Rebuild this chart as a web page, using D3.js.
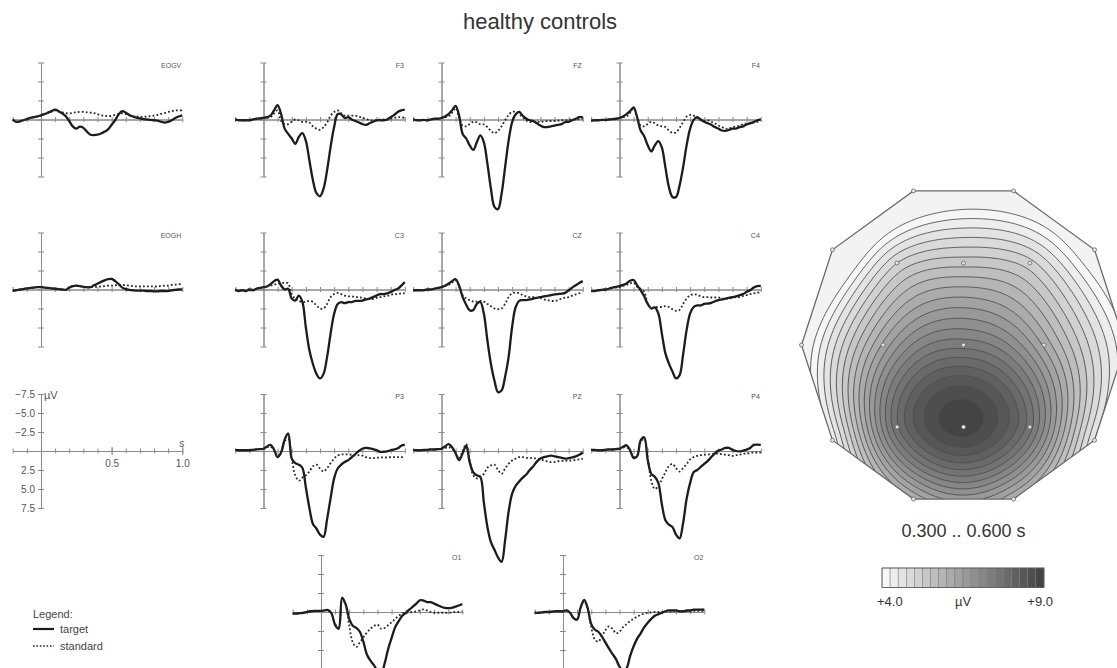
<!DOCTYPE html>
<html>
<head>
<meta charset="utf-8">
<script src="https://cdn.jsdelivr.net/npm/d3@7"></script>
<style>
  body { margin: 0; background: #fff; }
  svg { font-family: "Liberation Sans", Arial, Helvetica, sans-serif; }
  .ax path, .ax line { stroke: #8a8a8a; stroke-width: 1; }
  .ax text { fill: #555; font-size: 10px; font-family: "Liberation Sans", Arial, sans-serif; }
</style>
</head>
<body>
<svg id="chart" width="1117" height="668"></svg>
<script>
// sampling grid of the averaged epochs, -0.2 .. 1.0 s, every 25 ms
var times = d3.range(-0.2, 1.0001, 0.025);

// averaged ERPs in µV (negative up), target / standard
var targetEOGV = [0,0.3,0.25,0.1,-0.05,-0.2,-0.3,-0.4,-0.55, -0.7,-0.9,-1.1,-1.3,-1.1,-0.8,-0.45,0.2,0.9,1.2,0.95, 1.1,1.6,2.0,2.05,2.0,1.85,1.6,1.3,0.7,0.1, -0.7,-1.1,-0.9,-0.6,-0.4,-0.25,-0.15,-0.05,0,0.05, 0.1,0.15,0.3,0.4,0.3,0.1,-0.2,-0.4,-0.55];
var standardEOGV = [0,0.3,0.25,0.1,-0.05,-0.2,-0.3,-0.4,-0.55, -0.7,-0.9,-1.05,-1.2,-1.05,-0.95,-0.85,-0.8,-0.9,-0.95,-1.0, -1.0,-0.95,-0.9,-0.85,-0.7,-0.55,-0.5,-0.45,-0.5,-0.6, -0.75,-0.8,-0.7,-0.55,-0.45,-0.4,-0.35,-0.35,-0.4,-0.45, -0.5,-0.6,-0.75,-0.85,-1.0,-1.1,-1.2,-1.2,-1.2];

var targetEOGH = [0.15,0.1,0,-0.05,-0.15,-0.2,-0.25,-0.3,-0.3, -0.25,-0.2,-0.15,-0.1,-0.05,0,0.05,-0.25,-0.45,-0.5,-0.45, -0.35,-0.3,-0.3,-0.55,-0.75,-1.0,-1.2,-1.35,-1.4,-1.1, -0.7,-0.25,-0.05,0.05,0.1,0.15,0.15,0.15,0.2,0.2, 0.25,0.25,0.2,0.2,0.2,0.1,0.05,0,0];
var standardEOGH = [0.15,0.1,0,-0.05,-0.15,-0.2,-0.25,-0.3,-0.3, -0.25,-0.2,-0.15,-0.1,-0.05,0,0.05,-0.25,-0.45,-0.5,-0.45, -0.35,-0.3,-0.3,-0.35,-0.35,-0.4,-0.45,-0.5,-0.5,-0.55, -0.6,-0.6,-0.55,-0.5,-0.45,-0.4,-0.4,-0.4,-0.4,-0.4, -0.4,-0.4,-0.45,-0.5,-0.5,-0.6,-0.65,-0.7,-0.75];

var targetF3 = [0,0.1,0.1,0.1,0.1,0,-0.1,-0.15,-0.2, -0.3,-0.5,-1.2,-1.9,-0.7,1.2,1.9,2.5,3.2,2.3,1.8, 2.8,5.4,8.0,9.7,10.1,9.1,6.7,3.6,1.0,-0.7, -0.7,-0.2,-0.3,0,0.2,0.4,0.6,0.7,0.5,0.3, 0.1,0.1,0.1,0,-0.3,-0.6,-1.0,-1.2,-1.3];
var standardF3 = [0,0,0.1,0.1,0,0,-0.1,-0.1,-0.2, -0.2,-0.3,-0.8,-1.2,0.2,0.6,0.6,0.3,0,0.1,0.3, 0.3,0.4,0.9,1.2,1.35,1.0,0.4,-0.5,-1.0,-1.2, -0.8,-0.5,-0.5,-0.5,-0.5,-0.4,-0.2,-0.1,0.1,0.1, 0.1,0,0,0,-0.1,-0.2,-0.3,-0.3,-0.2];

var targetFZ = [0,0.1,0.1,0.05,0.1,0,-0.1,-0.1,-0.2, -0.4,-0.7,-1.2,-1.8,-0.5,1.9,2.5,3.4,4.0,3.0,2.1, 3.0,5.8,9.1,11.5,11.8,9.8,6.3,2.8,0.35,-0.7, -1.0,-0.5,-0.1,0.1,0.2,0.5,0.8,1.0,1.0,0.9, 0.8,0.7,0.6,0.35,0.3,0.1,-0.1,-0.3,-0.3];
var standardFZ = [0,0.05,0.1,0.05,0.05,0,-0.05,-0.1,-0.2, -0.3,-0.4,-0.9,-1.5,-0.2,0.8,0.9,0.6,0.3,0.35,0.65, 0.65,1.0,1.5,1.8,1.5,0.9,0.1,-0.6,-1.0,-1.0, -0.7,-0.3,0.1,0.3,0.35,0.3,0.3,0.25,0.2,0.2, 0.2,0.15,0.1,0.1,0.05,0,0,-0.05,-0.1];

var targetF4 = [0.15,0.1,0.1,0.05,0.05,0,-0.05,-0.1,-0.2, -0.4,-0.7,-1.1,-1.6,-0.3,1.45,2.2,3.4,4.2,3.4,2.85, 3.7,6.3,8.9,10.2,10.2,8.7,6.3,3.4,1.2,0.05, -0.3,0,0.3,0.5,0.7,1.0,1.2,1.45,1.5,1.35, 1.2,1.2,1.0,0.9,0.65,0.5,0.35,0.1,0];
var standardF4 = [0.15,0.1,0.1,0.05,0.05,0,-0.05,-0.1,-0.2, -0.3,-0.4,-0.9,-1.5,-0.3,0.8,0.9,0.6,0.3,0.5,0.8, 0.9,1.0,1.45,1.75,1.7,1.1,0.35,-0.4,-0.6,-0.5, -0.2,0.1,0.2,0.1,0.3,0.5,0.8,1.0,1.2,1.2, 1.0,0.9,0.8,0.6,0.5,0.4,0.3,0.3,0.3];

var targetC3 = [0,0.2,0.1,0.2,0,0.1,-0.1,-0.2,-0.3, -0.4,-0.7,-1.1,-1.3,-0.5,0,-0.1,1.2,1.45,0.8,1.6, 5.0,8.0,9.8,11.1,11.7,11.1,8.9,5.8,3.2,1.9, 1.65,1.8,1.65,1.65,1.5,1.5,1.45,1.3,1.2,1.0, 0.8,0.6,0.6,0.5,0.35,0.1,-0.1,-0.5,-1.0];
var standardC3 = [0,0.1,0.1,0.1,0,0,-0.1,-0.2,-0.3, -0.4,-0.5,-0.65,-0.75,-0.8,-0.9,-0.8,0.6,1.2,1.5,1.65, 1.6,1.5,1.65,2.1,2.5,2.5,1.9,1.0,0.6,0.45, 0.6,0.8,0.9,0.9,1.0,1.0,1.1,1.2,1.25,1.25, 1.1,1.0,0.9,0.85,0.7,0.6,0.6,0.5,0.5];

var targetCZ = [0.1,0.1,0.1,0.1,0,0,-0.1,-0.2,-0.3, -0.5,-0.75,-1.1,-1.35,-0.5,1.0,2.0,2.75,2.7,1.9,1.65, 3.2,6.7,9.8,12.0,13.5,13.3,11.5,8.9,4.9,2.3, 1.5,1.4,1.4,1.3,1.2,1.1,1.0,0.9,0.85,0.75, 0.65,0.6,0.55,0.45,0.1,-0.25,-0.55,-0.85,-1.1];
var standardCZ = [0.1,0.1,0.1,0.05,0,0,-0.1,-0.2,-0.3, -0.45,-0.6,-0.9,-1.2,-0.35,0.75,1.2,1.4,1.6,1.6,1.5, 1.6,1.9,2.2,2.5,2.6,2.5,1.9,1.0,0.5,0.4, 0.5,0.75,0.9,1.0,1.0,1.1,1.1,1.3,1.4,1.5, 1.5,1.4,1.2,1.05,1.0,0.8,0.65,0.5,0.45];

var targetC4 = [0.2,0.2,0.1,0.05,0,-0.1,-0.25,-0.35,-0.45, -0.6,-0.8,-1.15,-1.25,-0.55,0.1,0.9,1.9,2.5,2.35,3.15, 5.8,8.4,9.75,10.8,11.7,11.3,8.6,5.35,3.15,2.3, 2.1,2.1,1.9,1.85,1.75,1.55,1.4,1.3,1.2,1.1, 1.0,0.9,0.75,0.6,0.3,0.1,-0.25,-0.45,-0.45];
var standardC4 = [0.2,0.2,0.1,0.05,0,-0.1,-0.2,-0.25,-0.3, -0.45,-0.6,-0.8,-0.9,-0.35,-0.1,0.3,1.85,2.35,2.35,2.3, 2.3,2.2,2.3,2.6,2.8,2.7,1.9,1.2,0.75,0.65, 0.7,0.9,1.0,1.0,1.05,1.05,1.05,1.2,1.2,1.2, 1.1,1.0,1.0,0.85,0.75,0.6,0.5,0.45,0.3];

var targetP3 = [-0.15,-0.1,-0.1,-0.1,-0.1,-0.15,-0.2,-0.25,-0.3, -0.6,-0.8,-0.2,0.8,0.2,-1.5,-2.3,1.0,1.6,1.8,2.2, 4.8,7.5,9.6,10.2,11.0,11.3,9.0,6.2,3.6,2.3, 1.8,1.45,1.2,0.8,0.4,0.0,-0.3,-0.4,-0.35,-0.25, -0.1,0.1,0.1,0.05,-0.1,-0.2,-0.35,-0.7,-0.8];
var standardP3 = [-0.15,-0.1,-0.1,-0.1,-0.1,-0.15,-0.2,-0.25,-0.3, -0.5,-0.55,-0.1,0.6,0.1,-1.3,-1.6,1.0,3.2,3.9,3.5, 3.2,2.7,2.0,1.8,2.3,2.7,2.25,1.6,1.0,0.6, 0.45,0.45,0.45,0.5,0.6,0.55,0.6,0.8,0.9,0.95, 0.9,0.85,0.85,0.85,0.8,0.8,0.8,0.8,0.8];

var targetPZ = [-0.15,-0.1,-0.1,-0.15,-0.15,-0.2,-0.2,-0.25,-0.3, -0.6,-0.9,-0.5,0.3,1.2,0.3,-0.7,1.5,2.8,3.2,3.4, 6.8,10.0,12.0,13.0,14.0,14.6,11.8,8.0,5.6,4.6, 4.0,3.5,3.1,2.5,2.0,1.4,1.0,0.8,0.7,0.6, 0.7,0.8,0.9,1.0,0.95,0.85,0.7,0.5,0.2];
var standardPZ = [-0.15,-0.1,-0.1,-0.15,-0.15,-0.2,-0.2,-0.25,-0.3, -0.4,-0.5,-0.3,0.3,1.0,0.0,-0.9,1.2,3.2,3.6,3.4, 3.0,2.2,1.9,1.8,2.5,3.0,2.3,1.7,1.25,1.0, 0.8,0.8,0.9,0.9,0.95,1.0,1.1,1.25,1.35,1.45, 1.45,1.35,1.3,1.3,1.25,1.25,1.15,1.1,1.0];

var targetP4 = [-0.15,-0.15,-0.1,-0.1,-0.15,-0.2,-0.2,-0.25,-0.3, -0.55,-0.75,-0.1,0.9,0.7,-1.4,-1.8,1.2,3.0,3.4,4.2, 7.0,9.1,9.7,10.0,11.0,11.5,9.5,6.3,4.2,2.8, 2.5,2.1,1.7,1.3,0.8,0.3,-0.05,-0.2,-0.4,-0.4, -0.15,0,0.05,-0.05,-0.2,-0.4,-0.8,-0.85,-0.8];
var standardP4 = [-0.15,-0.15,-0.1,-0.1,-0.15,-0.2,-0.2,-0.25,-0.3, -0.45,-0.5,-0.1,0.8,0.6,-1.2,-1.6,0.8,3.9,5.0,4.6, 3.7,2.8,2.0,1.7,2.25,2.7,2.25,1.7,1.1,0.8, 0.65,0.55,0.5,0.45,0.45,0.35,0.35,0.4,0.5,0.55, 0.65,0.55,0.5,0.35,0.35,0.25,0.2,0.2,0.2];

var targetO1 = [0.2,0.2,0.15,0.1,0,-0.1,-0.15,-0.15,-0.15, -0.2,-0.25,0.2,1.7,2.2,-1.9,-1.0,0.9,1.8,2.1,2.6, 3.9,5.6,6.4,7.0,7.8,8.2,6.8,4.9,3.4,2.0, 1.2,0.5,0.1,-0.3,-0.7,-1.1,-1.55,-1.5,-1.3,-1.3, -1.1,-0.9,-0.7,-0.55,-0.5,-0.55,-0.7,-0.85,-1.05];
var standardO1 = [0.2,0.2,0.15,0.1,0,-0.1,-0.15,-0.15,-0.15, -0.2,-0.25,0.2,1.6,2.0,-1.7,-0.9,1.8,4.0,4.6,4.0, 3.35,2.7,2.2,1.85,1.65,2.2,2.1,1.75,1.35,0.9, 0.5,0.2,0.1,0.05,0,-0.1,-0.2,-0.35,-0.2,0, 0.1,0.1,0.1,0.1,0.1,0.05,0,0,-0.05];

var targetO2 = [0.1,0.1,0.05,0,0,-0.05,-0.1,-0.1,-0.1, -0.2,0.1,0.8,1.0,-0.6,-1.6,-0.5,1.6,2.3,2.6,3.2, 4.0,4.8,5.5,6.2,7.2,7.8,7.4,5.8,4.5,3.5, 2.8,2.0,1.4,0.9,0.5,0.3,0.1,-0.1,-0.2,-0.2, -0.2,-0.1,-0.1,-0.2,-0.2,-0.3,-0.3,-0.3,-0.3];
var standardO2 = [0.1,0.1,0.05,0,0,-0.05,-0.1,-0.1,-0.1, -0.2,0.1,0.8,1.0,-0.6,-1.4,-0.4,2.0,3.6,3.9,3.2, 2.4,1.9,2.2,2.8,2.6,2.0,1.6,1.2,0.9,0.6, 0.4,0.2,0.1,0.05,0,0,0,-0.05,-0.05,-0.1, -0.1,-0.1,-0.1,-0.1,-0.1,-0.15,-0.15,-0.15,-0.15];

// mean target amplitude 0.300 .. 0.600 s at each electrode (µV)
var mapElectrodes = ["Fp1","Fp2","F7","F3","Fz","F4","F8","T3","C3","Cz","C4","T4","T5","P3","Pz","P4","T6","O1","O2"];
var mapValues     = [3.2, 3.4, 2.9, 5.0, 5.4, 5.1, 3.5, 3.6, 6.3, 7.4, 6.2, 4.0, 4.3, 7.7, 8.9, 7.6, 4.5, 6.0, 6.0];

var colorTicks = [4.0, 9.0];
var yTicks = [-7.5, -5, -2.5, 0, 2.5, 5, 7.5];
var xTicks = d3.range(-0.2, 1.0001, 0.1);

// panel layout: axis origin in pixels
var panels = [
  {name: "EOGV", t: targetEOGV, s: standardEOGV, x: 41,  y: 119.5},
  {name: "F3",   t: targetF3,   s: standardF3,   x: 263.5, y: 119.5},
  {name: "FZ",   t: targetFZ,   s: standardFZ,   x: 441.5, y: 119.5},
  {name: "F4",   t: targetF4,   s: standardF4,   x: 619.5, y: 119.5},
  {name: "EOGH", t: targetEOGH, s: standardEOGH, x: 41,  y: 289.5},
  {name: "C3",   t: targetC3,   s: standardC3,   x: 263.5, y: 289.5},
  {name: "CZ",   t: targetCZ,   s: standardCZ,   x: 441.5, y: 289.5},
  {name: "C4",   t: targetC4,   s: standardC4,   x: 619.5, y: 289.5},
  {name: "P3",   t: targetP3,   s: standardP3,   x: 263.5, y: 451},
  {name: "PZ",   t: targetPZ,   s: standardPZ,   x: 441.5, y: 451},
  {name: "P4",   t: targetP4,   s: standardP4,   x: 619.5, y: 451},
  {name: "O1",   t: targetO1,   s: standardO1,   x: 321, y: 612},
  {name: "O2",   t: targetO2,   s: standardO2,   x: 563, y: 612}
];

var svg = d3.select("#chart");

var x = d3.scaleLinear().domain([-0.2, 1.0]).range([-28.3, 141.3]);
var y = d3.scaleLinear().domain([-7.5, 7.5]).range([-57, 57]);

var line = d3.line()
    .x(function(d, i) { return x(times[i]); })
    .y(function(d) { return y(d); })
    .curve(d3.curveCatmullRom.alpha(0.5));

function drawAxes(g) {
  g.append("g").attr("class", "ax")
    .call(d3.axisBottom(x).tickValues(xTicks).tickSize(2.5).tickSizeOuter(0).tickFormat(""));
  g.append("g").attr("class", "ax")
    .call(d3.axisTop(x).tickValues(xTicks).tickSize(2.5).tickSizeOuter(0).tickFormat(""));
  g.append("g").attr("class", "ax")
    .call(d3.axisLeft(y).tickValues(yTicks).tickSize(3).tickSizeOuter(0).tickFormat(""));
  g.append("g").attr("class", "ax")
    .call(d3.axisRight(y).tickValues(yTicks).tickSize(3).tickSizeOuter(0).tickFormat(""));
}

panels.forEach(function(p) {
  var g = svg.append("g").attr("transform", "translate(" + p.x + "," + p.y + ")");
  drawAxes(g);

  g.append("path")
    .datum(p.t)
    .attr("d", line)
    .attr("fill", "none")
    .attr("stroke", "#1c1c1c")
    .attr("stroke-width", 2.3)
    .attr("stroke-linejoin", "round");

  g.append("path")
    .datum(p.s)
    .attr("d", line)
    .attr("fill", "none")
    .attr("stroke", "#262626")
    .attr("stroke-width", 1.8)
    .attr("stroke-dasharray", "1.8,2.2");

  g.append("text")
    .attr("x", x(1.0) - 1)
    .attr("y", -52)
    .attr("text-anchor", "end")
    .attr("fill", "#555")
    .style("font-size", "7px")
    .text(p.name);
});

// scale panel
var sc = svg.append("g").attr("transform", "translate(41,451)");
sc.append("g").attr("class", "ax")
  .call(d3.axisBottom(x).tickValues(xTicks).tickSize(2.5).tickSizeOuter(0).tickFormat(""));
sc.append("g").attr("class", "ax")
  .call(d3.axisTop(x).tickValues(xTicks).tickSize(2.5).tickSizeOuter(0).tickFormat(""));
sc.append("g").attr("class", "ax")
  .call(d3.axisBottom(x).tickValues([0.5, 1.0]).tickSize(4).tickPadding(5).tickSizeOuter(0)
    .tickFormat(d3.format(".1f")))
  .select(".domain").remove();
sc.append("g").attr("class", "ax")
  .call(d3.axisTop(x).tickValues([0.5, 1.0]).tickSize(4).tickSizeOuter(0).tickFormat(""))
  .select(".domain").remove();
sc.append("g").attr("class", "ax")
  .call(d3.axisLeft(y).tickValues([-7.5, -5, -2.5, 2.5, 5, 7.5]).tickSize(3).tickPadding(3).tickSizeOuter(0)
    .tickFormat(function(d) { return (d < 0 ? "\u2212" : "") + Math.abs(d).toFixed(1); }));
sc.append("g").attr("class", "ax")
  .call(d3.axisRight(y).tickValues([-7.5, -5, -2.5, 2.5, 5, 7.5]).tickSize(3).tickSizeOuter(0).tickFormat(""));
sc.append("text").attr("x", 3).attr("y", y(-7.5) + 5).attr("fill", "#555").style("font-size", "11px").text("\u00b5V");
sc.append("text").attr("x", x(1.0) - 3).attr("y", -4).attr("fill", "#555").style("font-size", "10px").text("s");

// legend
var lg = svg.append("g").attr("transform", "translate(33,618)");
lg.append("text").attr("fill", "#444").style("font-size", "11px").text("Legend:");
lg.append("line").attr("x1", 0).attr("x2", 21).attr("y1", 11).attr("y2", 11)
  .attr("stroke", "#1c1c1c").attr("stroke-width", 2.2);
lg.append("text").attr("x", 27).attr("y", 15).attr("fill", "#444").style("font-size", "11px").text("target");
lg.append("line").attr("x1", 0).attr("x2", 21).attr("y1", 28).attr("y2", 28)
  .attr("stroke", "#262626").attr("stroke-width", 1.6).attr("stroke-dasharray", "1.6,1.8");
lg.append("text").attr("x", 27).attr("y", 32).attr("fill", "#444").style("font-size", "11px").text("standard");

// title
svg.append("text")
  .attr("x", 540).attr("y", 29)
  .attr("text-anchor", "middle")
  .attr("fill", "#333")
  .style("font-size", "22px")
  .text("healthy controls");

// ---------- topographic map ----------
var mcx = 963.5, mcy = 345, mR = 162;
function rim(a) { a = a * Math.PI / 180; return [Math.sin(a), -Math.cos(a)]; }
var elecPos = {
  Fp1: rim(-18), Fp2: rim(18), F8: rim(54), T4: rim(90), T6: rim(126), O2: rim(162),
  O1: rim(198), T5: rim(234), T3: rim(270), F7: rim(306),
  F3: [-0.41, -0.506], Fz: [0, -0.506], F4: [0.41, -0.506],
  C3: [-0.497, 0], Cz: [0, 0], C4: [0.497, 0],
  P3: [-0.41, 0.506], Pz: [0, 0.506], P4: [0.41, 0.506]
};
var rimOrder = ["Fp1", "Fp2", "F8", "T4", "T6", "O2", "O1", "T5", "T3", "F7"];

// thin plate spline through the electrode values
function thinPlate(pts, vals) {
  var n = pts.length, N = n + 3;
  var phi = function(r) { return r > 1e-9 ? r * r * Math.log(r) : 0; };
  var A = [];
  for (var i = 0; i < N; i++) A.push(new Array(N + 1).fill(0));
  for (i = 0; i < n; i++) {
    for (var j = 0; j < n; j++) A[i][j] = phi(Math.hypot(pts[i][0] - pts[j][0], pts[i][1] - pts[j][1]));
    A[i][n] = 1; A[i][n + 1] = pts[i][0]; A[i][n + 2] = pts[i][1];
    A[n][i] = 1; A[n + 1][i] = pts[i][0]; A[n + 2][i] = pts[i][1];
    A[i][N] = vals[i];
  }
  for (var c = 0; c < N; c++) {
    var p = c;
    for (var r = c + 1; r < N; r++) if (Math.abs(A[r][c]) > Math.abs(A[p][c])) p = r;
    var tmp = A[c]; A[c] = A[p]; A[p] = tmp;
    for (r = 0; r < N; r++) {
      if (r === c) continue;
      var f = A[r][c] / A[c][c];
      if (f === 0) continue;
      for (var k = c; k <= N; k++) A[r][k] -= f * A[c][k];
    }
  }
  var w = A.map(function(row, i) { return row[N] / row[i]; });
  return function(px, py) {
    var s = w[n] + w[n + 1] * px + w[n + 2] * py;
    for (var i = 0; i < n; i++) s += w[i] * phi(Math.hypot(px - pts[i][0], py - pts[i][1]));
    return s;
  };
}

var interp = thinPlate(mapElectrodes.map(function(e) { return elecPos[e]; }), mapValues);

var step = 2;
var gx0 = mcx - mR - 4, gy0 = mcy - mR - 4;
var nx = Math.ceil((2 * mR + 8) / step) + 1, ny = nx;
var grid = new Array(nx * ny);
for (var j = 0; j < ny; j++) {
  for (var i = 0; i < nx; i++) {
    grid[j * nx + i] = interp((gx0 + i * step - mcx) / mR, (gy0 + j * step - mcy) / mR);
  }
}

var levels = d3.range(4.0, 9.0001, 0.25);
var grey = d3.scaleLinear().domain(colorTicks).range(["#f6f6f6", "#3b3b3b"]).clamp(true);

var rimPts = rimOrder.map(function(e) { return [mcx + elecPos[e][0] * mR, mcy + elecPos[e][1] * mR]; });

svg.append("clipPath").attr("id", "headclip")
  .append("polygon").attr("points", rimPts.map(function(p) { return p.join(","); }).join(" "));

var contours = d3.contours().size([nx, ny]).thresholds(levels)(grid);
var cpath = d3.geoPath(d3.geoIdentity().scale(step).translate([gx0 - 0.5 * step, gy0 - 0.5 * step]));

var mg = svg.append("g").attr("clip-path", "url(#headclip)");
mg.append("polygon")
  .attr("points", rimPts.map(function(p) { return p.join(","); }).join(" "))
  .attr("fill", "#f3f3f3");
mg.selectAll("path.band")
  .data(contours)
  .enter().append("path")
  .attr("class", "band")
  .attr("d", cpath)
  .attr("fill", function(d) { return grey(d.value); })
  .attr("stroke", "#4e4e4e")
  .attr("stroke-width", 0.9);

svg.append("polygon")
  .attr("points", rimPts.map(function(p) { return p.join(","); }).join(" "))
  .attr("fill", "none")
  .attr("stroke", "#6a6a6a")
  .attr("stroke-width", 1.3);

svg.selectAll("circle.elec")
  .data(mapElectrodes)
  .enter().append("circle")
  .attr("class", "elec")
  .attr("cx", function(e) { return mcx + elecPos[e][0] * mR; })
  .attr("cy", function(e) { return mcy + elecPos[e][1] * mR; })
  .attr("r", 2)
  .attr("fill", function(e) { return e === "Pz" ? "#ffffff" : "#e6e6e6"; })
  .attr("stroke", "#666")
  .attr("stroke-width", 0.8);

svg.append("text")
  .attr("x", mcx).attr("y", 537)
  .attr("text-anchor", "middle")
  .attr("fill", "#333")
  .style("font-size", "18px")
  .text("0.300 .. 0.600 s");

// colour bar
var cb = d3.scaleLinear().domain(colorTicks).range([882, 1044]);
svg.selectAll("rect.cb")
  .data(levels.slice(0, -1))
  .enter().append("rect")
  .attr("class", "cb")
  .attr("x", function(d) { return cb(d); })
  .attr("y", 568)
  .attr("width", function(d) { return cb(d + 0.25) - cb(d); })
  .attr("height", 19.5)
  .attr("fill", function(d) { return grey(d); })
  .attr("stroke", "#777")
  .attr("stroke-width", 0.5);
svg.append("rect").attr("x", 882).attr("y", 568).attr("width", 162).attr("height", 19.5)
  .attr("fill", "none").attr("stroke", "#555").attr("stroke-width", 0.8);

svg.append("text").attr("x", 877).attr("y", 606).attr("fill", "#333").style("font-size", "13px").text("+4.0");
svg.append("text").attr("x", 963).attr("y", 606).attr("text-anchor", "middle").attr("fill", "#333").style("font-size", "13px").text("\u00b5V");
svg.append("text").attr("x", 1053).attr("y", 606).attr("text-anchor", "end").attr("fill", "#333").style("font-size", "13px").text("+9.0");
</script>
</body>
</html>
